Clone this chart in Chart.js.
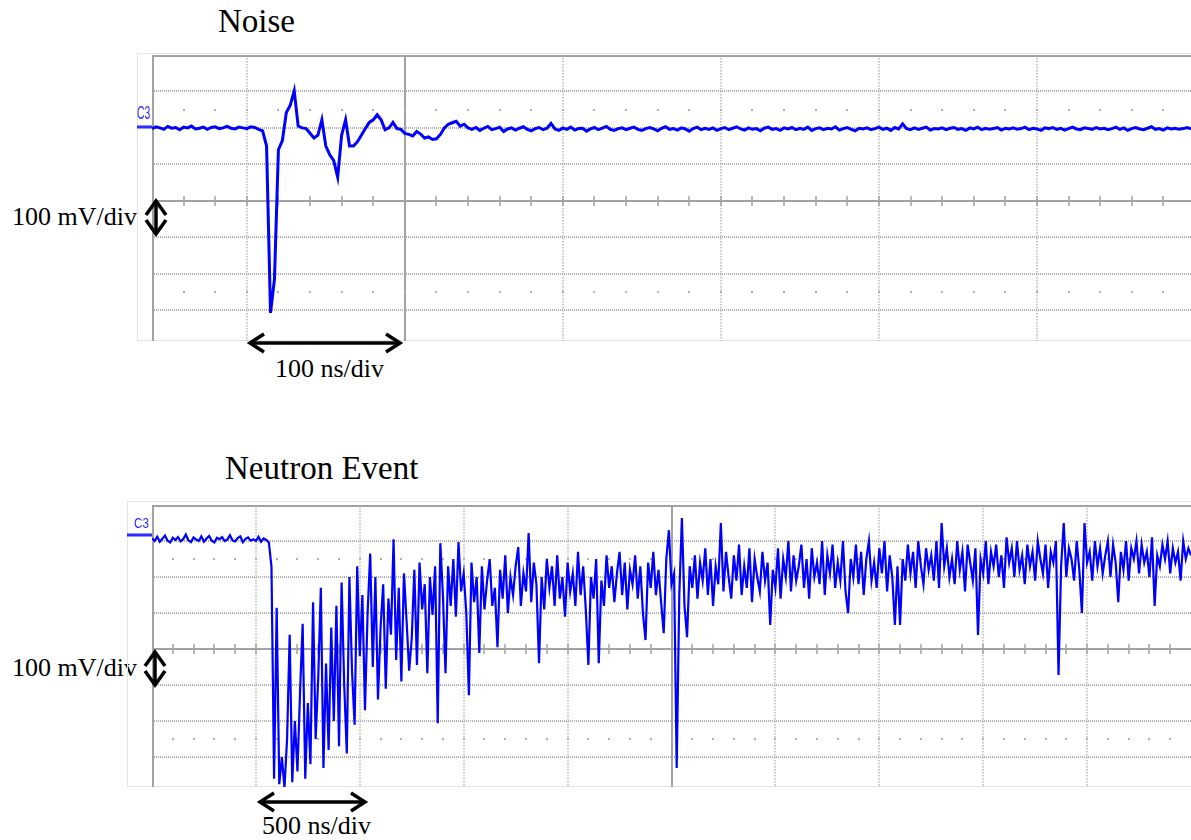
<!DOCTYPE html>
<html>
<head>
<meta charset="utf-8">
<title>Noise / Neutron Event</title>
<script src="https://cdn.jsdelivr.net/npm/chart.js@4.4.0/dist/chart.umd.min.js"></script>
<style>
  body { margin: 0; width: 1191px; height: 840px; background: #fff; position: relative; overflow: hidden; }
  canvas { position: absolute; }
  .lbl { position: absolute; font-family: "Liberation Serif", "Times New Roman", serif; color: #000; white-space: nowrap; line-height: 1; }
  .title { font-size: 33px; }
  .scale { font-size: 26px; }
  .ch { position: absolute; font-family: "Liberation Sans", Arial, sans-serif; color: #2b2bff; line-height: 1; transform-origin: 0 0; }
  svg { position: absolute; left: 0; top: 0; }
</style>
</head>
<body>

<div class="lbl title" style="left:218px;top:5px">Noise</div>
<div class="lbl scale" style="left:12px;top:204px">100 mV/div</div>
<div class="lbl scale" style="left:275px;top:356px">100 ns/div</div>
<div class="lbl title" style="left:225px;top:452px">Neutron Event</div>
<div class="lbl scale" style="left:12px;top:655px">100 mV/div</div>
<div class="lbl scale" style="left:262px;top:813px">500 ns/div</div>

<canvas id="noiseChart" width="1061" height="300" style="left:130px;top:45px"></canvas>
<canvas id="eventChart" width="1071" height="300" style="left:120px;top:495px"></canvas>

<div class="ch" style="left:137px;top:103px;font-size:19px;transform:scaleX(0.55)">C3</div>
<div class="ch" style="left:134px;top:515px;font-size:15px;transform:scaleX(0.78)">C3</div>

<svg width="1191" height="840">
  <g stroke="#000" stroke-width="3.5" fill="none" stroke-linejoin="miter">
    <line x1="251" y1="343" x2="399" y2="343"/>
    <polyline points="264,334 250,343 264,352"/>
    <polyline points="386,334 400,343 386,352"/>
    <line x1="156" y1="202" x2="156" y2="233"/>
    <polyline points="146,215 156,201 166,215"/>
    <polyline points="146,220 156,234 166,220"/>
    <line x1="155" y1="652" x2="155" y2="685"/>
    <polyline points="145,666 155,652 165,666"/>
    <polyline points="145,671 155,685 165,671"/>
    <line x1="261" y1="802" x2="364" y2="802"/>
    <polyline points="274,793 260,802 274,811"/>
    <polyline points="351,793 365,802 351,811"/>
  </g>
</svg>

<script>
/* ===================================================
=================================================== */

// Panel "Noise": 100 ns/div, 100 mV/div, una muestra cada 2.5 ns desde -60 ns
const noiseStartNs = -60;
const noiseStepNs = 2.5;
const noiseMv = [
  198, 203, 200, 196, 204, 199, 201, 195, 202, 200, 205, 197, 199, 202, 196, 201, 203, 198, 200, 204,
  199, 197, 202, 200, 198, 203, 201, 196, 192, 150, -308, -215, 140, 165, 242, 262, 302, 205, 200, 198,
  185, 172, 180, 222, 150, 126, 110, 65, 180, 222, 150, 150, 162, 180, 198, 215, 222, 236, 222, 195,
  200, 215, 198, 196, 185, 182, 178, 190, 183, 172, 175, 168, 170, 182, 200, 210, 214, 218, 205, 210,
  200,
  196, 201, 193, 199, 204, 195, 198, 202, 190, 197, 200, 194, 199, 203, 196, 192, 198, 201, 195, 199,
  212, 197, 193, 200, 196, 202, 194, 198, 199, 191, 197, 201, 195, 199, 204, 196, 193, 198, 200, 195,
  199, 202, 196, 193, 198, 201, 197, 192, 199, 203, 196, 198, 194, 200, 197, 191, 198, 202, 195, 199,
  196, 200, 193, 198, 201, 195, 199, 203, 197, 194, 200, 196, 198, 192, 199, 202, 196, 198, 193, 200,
  197, 201, 195, 199, 196, 202, 193, 198, 200, 195, 199, 197, 203, 194, 198, 201, 196, 192, 199, 197,
  200, 195, 198, 202, 196, 199, 193, 201, 197, 211, 198, 195, 200, 196, 199, 202, 194, 198, 197, 200,
  195, 199, 201, 196, 198, 193, 200, 197, 202, 195, 199, 196, 198, 201, 194, 199, 197, 200, 196, 198,
  202, 195, 199, 197, 193, 200, 198, 201, 196, 199, 194, 198, 202, 197, 195, 200, 198, 196, 201, 197,
  199, 195, 198, 202, 196, 200, 193, 198, 201, 197, 195, 199, 203, 196, 198, 194, 200, 197, 199, 196,
  198, 201, 197
];

// Panel "Neutron Event": 500 ns/div, 100 mV/div, una muestra cada 12.5 ns desde 0 ns
const eventStartNs = 0;
const eventStepNs = 12.5;
const eventMv = [
  308, 300, 312, 298, 306, 315, 301, 296, 309, 303, 311, 299, 305, 318, 302, 297, 310, 304, 300, 313,
  298, 307, 314, 301, 296, 309, 305, 311, 300, 304, 316, 302, 299, 308, 313, 297, 306, 310, 301, 305,
  300, 312, 298, 307, 303, 296, 228, -360, 115, -375, -300, -385, -250, 40, -370, -200, -340, -120, 70, -360,
  -150, -320, 130, -250, -80, 170, -330, -40, -280, 60, -200, 120, -270, 185, -100, -290, 200, -60, -210, 230,
  -20, 150, -170, 100, 265, -50, 200, -140, 60, 180, -110, 140, 40, 305, -30, 170, -90, 210, 80, -60,
  30, 220, -44, 240, 110, 180, -67, 200, 95, 230, -206, 294, 150, -67, 230, 120, 250, 90, 297, 160,
  210, 100, -128, 240, 130, 200, -11, 230, 110, 190, 250, 120, 170, 5, 220, 140, 260, 100, 200, 150,
  230, 283, 120, 210, 160, 322, 130, 240, 180, -39, 200, 110, 250, 170, 230, 120, 260, 140, 200, 90,
  240, 160, 210, 120, 270, 150, 230, 110, -44, 200, 140, 250, -39, 190, 120, 260, 170, 230, 130, 210,
  270, 150, 240, 110, 220, 180, 260, 140, 230, 100, 25, 240, 170, 270, 150, 220, 130, 44, 250, 330,
  180, 210, -330, 150, 364, 120, 33, 230, 170, 260, 140, 240, 190, 280, 150, 250, 120, 230, 180, 350,
  160, 270, 200, 140, 260, 190, 290, 150, 230, 170, 280, 130, 250, 200, 160, 270, 190, 240, 67, 220,
  170, 280, 140, 250, 200, 300, 160, 260, 190, 230, 290, 170, 250, 140, 280, 200, 240, 180, 300, 150,
  260, 210, 290, 170, 240, 190, 300, 160, 100, 250, 200, 290, 180, 270, 150, 250, 300, 190, 240, 170,
  280, 210, 300, 160, 260, 200, 67, 230, 67, 250, 190, 290, 210, 270, 170, 300, 230, 180, 280, 220,
  260, 190, 300, 170, 350, 230, 280, 200, 250, 180, 300, 220, 270, 160, 290, 240, 190, 280, 39, 250,
  210, 300, 180, 270, 230, 290, 200, 260, 170, 310, 240, 280, 200, 300, 220, 260, 180, 290, 230, 270,
  190, 300, 250, 210, 290, 170, 270, 240, 300, -72, 230, 350, 200, 280, 250, 190, 300, 220, 100, 350,
  240, 270, 190, 300, 230, 280, 210, 260, 300, 200, 290, 240, 130, 270, 220, 300, 190, 280, 250, 300,
  210, 290, 240, 270, 200, 310, 120, 260, 230, 290, 250, 300, 210, 280, 240, 270, 190, 300, 250, 280,
  260
];

// Retícula (divisiones) de cada panel
const noiseXDotted = [0, 200, 300, 400, 500];
const noiseXSolid = [-60, 100];
const eventXDotted = [500, 1000, 1500, 2000, 3000, 3500, 4000, 4500];
const eventXSolid = [0, 2500];
const yDotted = [-300, -200, -100, 100, 200, 300];
const yDots = [-250, 250];

/* ===================================================
   PLUGIN: retícula del osciloscopio
=================================================== */

const graticulePlugin = {
    id: "graticule",
    beforeDraw(chart, args, opts) {
        const ctx = chart.ctx;
        const a = chart.chartArea;
        const y = chart.scales.y;
        ctx.save();
        // marco exterior claro
        ctx.strokeStyle = "#e3e3e3";
        ctx.lineWidth = 1;
        ctx.strokeRect(opts.frameLeft + 0.5, opts.frameTop + 0.5, a.right - opts.frameLeft, a.bottom - opts.frameTop - 1);
        // marcador de nivel del canal
        ctx.fillStyle = "#2b2bff";
        ctx.fillRect(opts.frameLeft, Math.round(y.getPixelForValue(opts.marker)) - 1.5, a.left - opts.frameLeft, 3);
        ctx.restore();
    },
    beforeDatasetsDraw(chart, args, opts) {
        const ctx = chart.ctx;
        const a = chart.chartArea;
        const x = chart.scales.x;
        const y = chart.scales.y;
        const y0 = Math.round(y.getPixelForValue(0));
        ctx.save();

        // líneas horizontales punteadas
        ctx.strokeStyle = "#b0b0b0";
        ctx.lineWidth = 2;
        ctx.setLineDash([1, 1]);
        yDotted.forEach((v) => {
            const py = Math.round(y.getPixelForValue(v));
            ctx.beginPath();
            ctx.moveTo(a.left, py);
            ctx.lineTo(a.right, py);
            ctx.stroke();
        });

        // líneas verticales punteadas
        ctx.strokeStyle = "#b8b8b8";
        ctx.lineWidth = 1.5;
        ctx.setLineDash([1.5, 1.5]);
        opts.xDotted.forEach((v) => {
            const px = Math.round(x.getPixelForValue(v));
            ctx.beginPath();
            ctx.moveTo(px, a.top);
            ctx.lineTo(px, a.bottom);
            ctx.stroke();
        });
        ctx.setLineDash([]);

        // líneas sólidas: borde, centro vertical y eje central
        ctx.strokeStyle = "#a2a2a2";
        ctx.lineWidth = 2;
        opts.xSolid.forEach((v) => {
            const px = Math.max(Math.round(x.getPixelForValue(v)), a.left + 1);
            ctx.beginPath();
            ctx.moveTo(px, a.top);
            ctx.lineTo(px, a.bottom);
            ctx.stroke();
        });
        ctx.beginPath();
        ctx.moveTo(a.left, y0);
        ctx.lineTo(a.right, y0);
        ctx.stroke();
        ctx.beginPath();
        ctx.moveTo(a.left, a.top + 1);
        ctx.lineTo(a.right, a.top + 1);
        ctx.stroke();

        // marcas menores sobre el eje central y filas de puntos
        const step = opts.minorStep;
        for (let v = Math.ceil(x.min / step) * step; v < x.max; v += step) {
            const px = Math.round(x.getPixelForValue(v));
            if (px <= a.left + 2) continue;
            ctx.strokeStyle = "#a2a2a2";
            ctx.lineWidth = 1.5;
            ctx.beginPath();
            ctx.moveTo(px, y0 - 5);
            ctx.lineTo(px, y0 + 5);
            ctx.stroke();
            ctx.fillStyle = "#b0b0b0";
            yDots.forEach((d) => {
                const py = Math.round(y.getPixelForValue(d));
                ctx.fillRect(px - 1, py - 1, 2, 2);
            });
        }
        ctx.restore();
    },
};

/* ===================================================
   GRÁFICOS
=================================================== */

function buildPoints(start, step, values) {
    return values.map((v, i) => ({ x: start + i * step, y: v }));
}

function scopeChart(canvasId, points, lineWidth, xMin, xMax, yMin, padding, grat) {
    const ctx = document.getElementById(canvasId).getContext("2d");
    return new Chart(ctx, {
        type: "line",
        data: {
            datasets: [
                {
                    data: points,
                    borderColor: "#0000ff",
                    borderWidth: lineWidth,
                    pointRadius: 0,
                    tension: 0,
                    fill: false,
                },
            ],
        },
        options: {
            responsive: false,
            animation: false,
            devicePixelRatio: 1,
            layout: { padding: padding },
            plugins: {
                legend: { display: false },
                tooltip: { enabled: false },
                graticule: grat,
            },
            scales: {
                x: { type: "linear", min: xMin, max: xMax, display: false },
                y: { type: "linear", min: yMin, max: 400, display: false },
            },
        },
        plugins: [graticulePlugin],
    });
}

scopeChart(
    "noiseChart",
    buildPoints(noiseStartNs, noiseStepNs, noiseMv),
    3, -60, 597.5, -385,
    { left: 22, top: 10, right: 0, bottom: 4 },
    { xDotted: noiseXDotted, xSolid: noiseXSolid, minorStep: 20, frameLeft: 7, frameTop: 8, marker: 203 }
);

scopeChart(
    "eventChart",
    buildPoints(eventStartNs, eventStepNs, eventMv),
    2.2, 0, 5000, -383,
    { left: 32, top: 10, right: 0, bottom: 8 },
    { xDotted: eventXDotted, xSolid: eventXSolid, minorStep: 100, frameLeft: 7, frameTop: 6, marker: 317 }
);
</script>
</body>
</html>
